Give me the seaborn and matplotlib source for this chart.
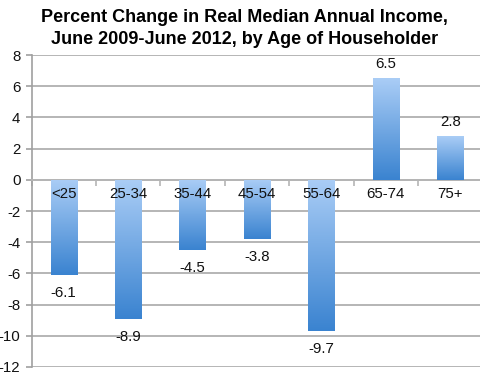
import numpy as np
import pandas as pd
import matplotlib
matplotlib.use("Agg")
import matplotlib.pyplot as plt
import seaborn as sns
from matplotlib.colors import LinearSegmentedColormap

categories = ["<25", "25-34", "35-44", "45-54", "55-64", "65-74", "75+"]
values = [-6.1, -8.9, -4.5, -3.8, -9.7, 6.5, 2.8]
yticks = [-12, -10, -8, -6, -4, -2, 0, 2, 4, 6, 8]
title = "Percent Change in Real Median Annual Income,\nJune 2009-June 2012, by Age of Householder"

sns.set_theme(style="white")
plt.rcParams['font.family'] = ['Liberation Sans', 'DejaVu Sans']

df = pd.DataFrame({"age": categories, "pct": values})

fig = plt.figure(figsize=(4.8, 3.91), dpi=100)
ax = fig.add_axes([31.5/480, 1 - 367/391, 451/480, 312/391])

sns.barplot(data=df, x="age", y="pct", ax=ax, width=0.41, color="#6fa8e8",
            edgecolor="none", linewidth=0)

cmap = LinearSegmentedColormap.from_list("g", ["#aacdf6", "#3a83d0"])
grad = np.linspace(0, 1, 256).reshape(-1, 1)
for p in ax.patches:
    x0, y0 = p.get_x(), p.get_y()
    w, h = p.get_width(), p.get_height()
    top = max(y0, y0 + h)
    bot = min(y0, y0 + h)
    p.set_facecolor("none")
    im = ax.imshow(grad, cmap=cmap, aspect="auto", origin="upper",
                   extent=[x0, x0 + w, bot, top], zorder=3)
    im.set_clip_path(p)

ax.set_xlim(-0.5, len(categories) - 0.5)
ax.set_ylim(-12, 8)
ax.set_yticks(yticks)
ax.set_yticklabels([str(t) for t in yticks], fontsize=10.8, color="#111111")
ax.yaxis.grid(True, color="#b5b5b5", linewidth=1.4)
ax.set_axisbelow(True)

# x-axis on zero line with ticks at category boundaries
ax.spines['bottom'].set_position(('data', 0))
ax.spines['bottom'].set_color("#b5b5b5")
ax.spines['bottom'].set_linewidth(1.4)
ax.set_xticks(np.arange(-0.5, len(categories), 1.0))
ax.set_xticklabels([])
ax.tick_params(axis='x', direction='out', length=4, width=1.2, color="#b5b5b5", bottom=True)
ax.spines['left'].set_color("#a0a0a0")
ax.spines['left'].set_linewidth(1.2)
ax.tick_params(axis='y', direction='out', length=4, width=1.2, color="#a0a0a0", left=True, pad=4)
ax.spines['top'].set_visible(False)
ax.spines['right'].set_visible(False)
ax.set_xlabel("")
ax.set_ylabel("")

for i, (c, v) in enumerate(zip(categories, values)):
    ax.annotate(c, xy=(i, 0), xytext=(0, -5), textcoords="offset points",
                ha="center", va="top", fontsize=10.8, color="#111111", zorder=5)
    if v < 0:
        ax.annotate(f"{v}", xy=(i, v), xytext=(0, -8), textcoords="offset points",
                    ha="center", va="top", fontsize=10.8, color="#111111")
    else:
        ax.annotate(f"{v}", xy=(i, v), xytext=(0, 5), textcoords="offset points",
                    ha="center", va="bottom", fontsize=10.8, color="#111111")

fig.text(0.51, 1 - 28.5/391, title, ha="center", va="center", fontsize=13,
         fontweight="bold", linespacing=1.33, color="#000000")

fig.savefig("out.png", dpi=100)
